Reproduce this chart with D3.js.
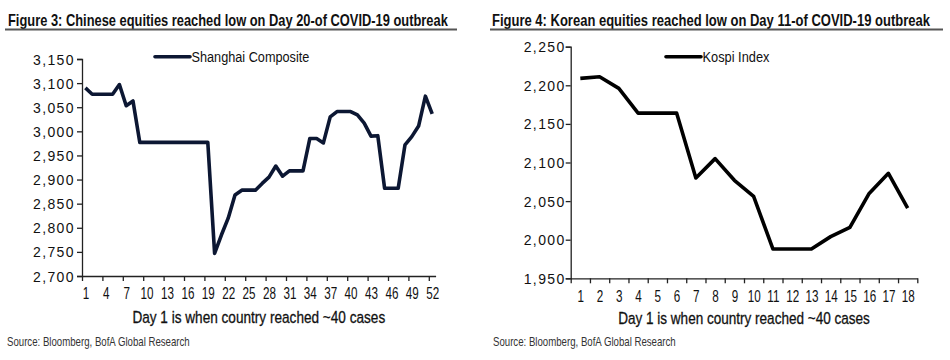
<!DOCTYPE html>
<html><head><meta charset="utf-8">
<script src="https://cdn.jsdelivr.net/npm/d3@7/dist/d3.min.js"></script>
<style>
body{margin:0;background:#fff;}
svg{display:block;}
</style></head>
<body><svg id="c" width="950" height="360"></svg>
<script>
// ---- data ----
const shanghaiDays = [1,2,3,4,5,6,7,8,9,10,11,12,13,14,15,16,17,18,19,20,21,22,23,24,25,26,27,28,29,30,31,32,33,34,35,36,37,38,39,40,41,42,43,44,45,46,47,48,49,50,51,52];
const shanghaiValues = [3090,3077,3077,3077,3077,3097,3053,3063,2977,2977,2977,2977,2977,2977,2977,2977,2977,2977,2977,2747,2785,2820,2868,2878,2878,2878,2892,2905,2928,2907,2918,2918,2918,2985,2985,2976,3030,3041,3041,3041,3034,3017,2990,2991,2882,2882,2882,2972,2989,3011,3073,3036];
const shanghaiTickLabels = [1,4,7,10,13,16,19,22,25,28,31,34,37,40,43,46,49,52];
const shanghaiYTicks = [2700,2750,2800,2850,2900,2950,3000,3050,3100,3150];

const kospiDays = [1,2,3,4,5,6,7,8,9,10,11,12,13,14,15,16,17,18];
const kospiValues = [2209,2211,2196,2164,2164,2164,2080,2105,2077,2056,1988,1988,1988,2004,2016,2060,2086,2041];
const kospiTickLabels = [1,2,3,4,5,6,7,8,9,10,11,12,13,14,15,16,17,18];
const kospiYTicks = [1950,2000,2050,2100,2150,2200,2250];

const titles = ["Figure 3: Chinese equities reached low on Day 20-of COVID-19 outbreak",
                "Figure 4: Korean equities reached low on Day 11-of COVID-19 outbreak"];
const seriesNames = ["Shanghai Composite","Kospi Index"];
const xAxisTitle = "Day 1 is when country reached ~40 cases";
const sourceText = "Source: Bloomberg, BofA Global Research";

const FONT = "Liberation Sans, Arial, sans-serif";
const svg = d3.select("#c");

// text squeezed horizontally to a target width (condensed look)
function fitText(parent, x, y, str, size, targetW, opts={}){
  const g = parent.append("g");
  const t = g.append("text").attr("x",0).attr("y",0).attr("font-family",FONT)
    .attr("font-size",size).attr("font-weight",opts.weight||"normal")
    .attr("fill",opts.fill||"#111").attr("text-anchor",opts.anchor||"start").text(str);
  if(opts.stroke) t.attr("stroke",opts.fill||"#111").attr("stroke-width",opts.stroke);
  const w = t.node().getComputedTextLength();
  const sx = targetW / w;
  g.attr("transform",`translate(${x},${y}) scale(${sx},1)`);
  return g;
}

function panel(o){
  const g = svg.append("g");
  fitText(g, o.titleX, 25.5, o.title, 16, o.titleW, {weight:"bold"});
  g.append("line").attr("x1",o.ulX1).attr("x2",o.ulX2).attr("y1",29.5).attr("y2",29.5)
    .attr("stroke","#555").attr("stroke-width",2);

  const x = d3.scaleLinear().domain([0.5, o.days.length+0.5]).range([o.x0,o.x1]);
  const y = d3.scaleLinear().domain([o.yTicks[0], o.yTicks[o.yTicks.length-1]]).range([o.yBottom,o.yTop]);

  // y axis
  const ya = g.append("g").attr("transform",`translate(${o.x0},0)`)
    .call(d3.axisLeft(y).tickValues(o.yTicks).tickFormat(d3.format(",")).tickSize(5).tickPadding(o.yPad));
  ya.select(".domain").attr("stroke","#222").attr("stroke-width",1.3);
  ya.selectAll(".tick line").attr("stroke","#222").attr("stroke-width",1.3);
  ya.selectAll("text").attr("font-family",FONT)
    .attr("font-size",14).attr("letter-spacing","1.4px").attr("fill","#111").attr("dy","0.36em");

  // x axis ticks at category boundaries
  const bounds = [];
  for(let b=0.5;b<=o.days.length+0.5;b+=o.tickEvery){ bounds.push(b); }
  const xa = g.append("g").attr("transform",`translate(0,${o.yBottom})`)
    .call(d3.axisBottom(x).tickValues(bounds).tickFormat("").tickSize(5).tickSizeOuter(0));
  xa.select(".domain").attr("stroke","#222").attr("stroke-width",1.3);
  xa.selectAll(".tick line").attr("stroke","#222").attr("stroke-width",1.3);
  // x labels
  const xl = g.append("g").attr("transform",`translate(0,${o.yBottom})`)
    .call(d3.axisBottom(x).tickValues(o.tickLabels).tickSize(0).tickPadding(o.xPad));
  xl.select(".domain").remove();
  xl.selectAll("text").attr("font-family",FONT).attr("font-size",16).attr("fill","#111")
    .attr("transform","scale(0.73,1)");

  // line
  const line = d3.line().x((d,i)=>x(o.days[i])).y(d=>y(d));
  g.append("path").datum(o.values).attr("d",line).attr("fill","none")
    .attr("stroke",o.color).attr("stroke-width",3.6).attr("stroke-linejoin","round");

  // legend
  g.append("line").attr("x1",o.legX1).attr("x2",o.legX2).attr("y1",56.7).attr("y2",56.7)
    .attr("stroke",o.color).attr("stroke-width",3.6).attr("stroke-linecap","round");
  fitText(g, o.legX2+1.5, 62, o.name, 15.5, o.legW);

  // axis title
  fitText(g, (o.x0+o.x1)/2, o.axTitleY, xAxisTitle, 16.5, o.axTitleW, {anchor:"middle", stroke:0.3});
  // source
  fitText(g, o.srcX, 345.5, sourceText, 12, 183, {fill:"#333"});
}

panel({title:titles[0], titleX:8, titleW:440, ulX1:5, ulX2:457,
  days:shanghaiDays, values:shanghaiValues, tickLabels:shanghaiTickLabels, yTicks:shanghaiYTicks,
  x0:82, x1:435.6, yTop:59, yBottom:276, tickEvery:3, yPad:2, xPad:12,
  color:"#0c1733", name:seriesNames[0], legX1:155, legX2:190, legW:118, axTitleY:323, axTitleW:253, srcX:7});

panel({title:titles[1], titleX:492, titleW:438, ulX1:490, ulX2:943,
  days:kospiDays, values:kospiValues, tickLabels:kospiTickLabels, yTicks:kospiYTicks,
  x0:570.7, x1:917.3, yTop:46.7, yBottom:278.3, tickEvery:1, yPad:0, xPad:12.5,
  color:"#000", name:seriesNames[1], legX1:666, legX2:701, legW:67, axTitleY:324, axTitleW:252, srcX:493});
</script>
</body></html>
